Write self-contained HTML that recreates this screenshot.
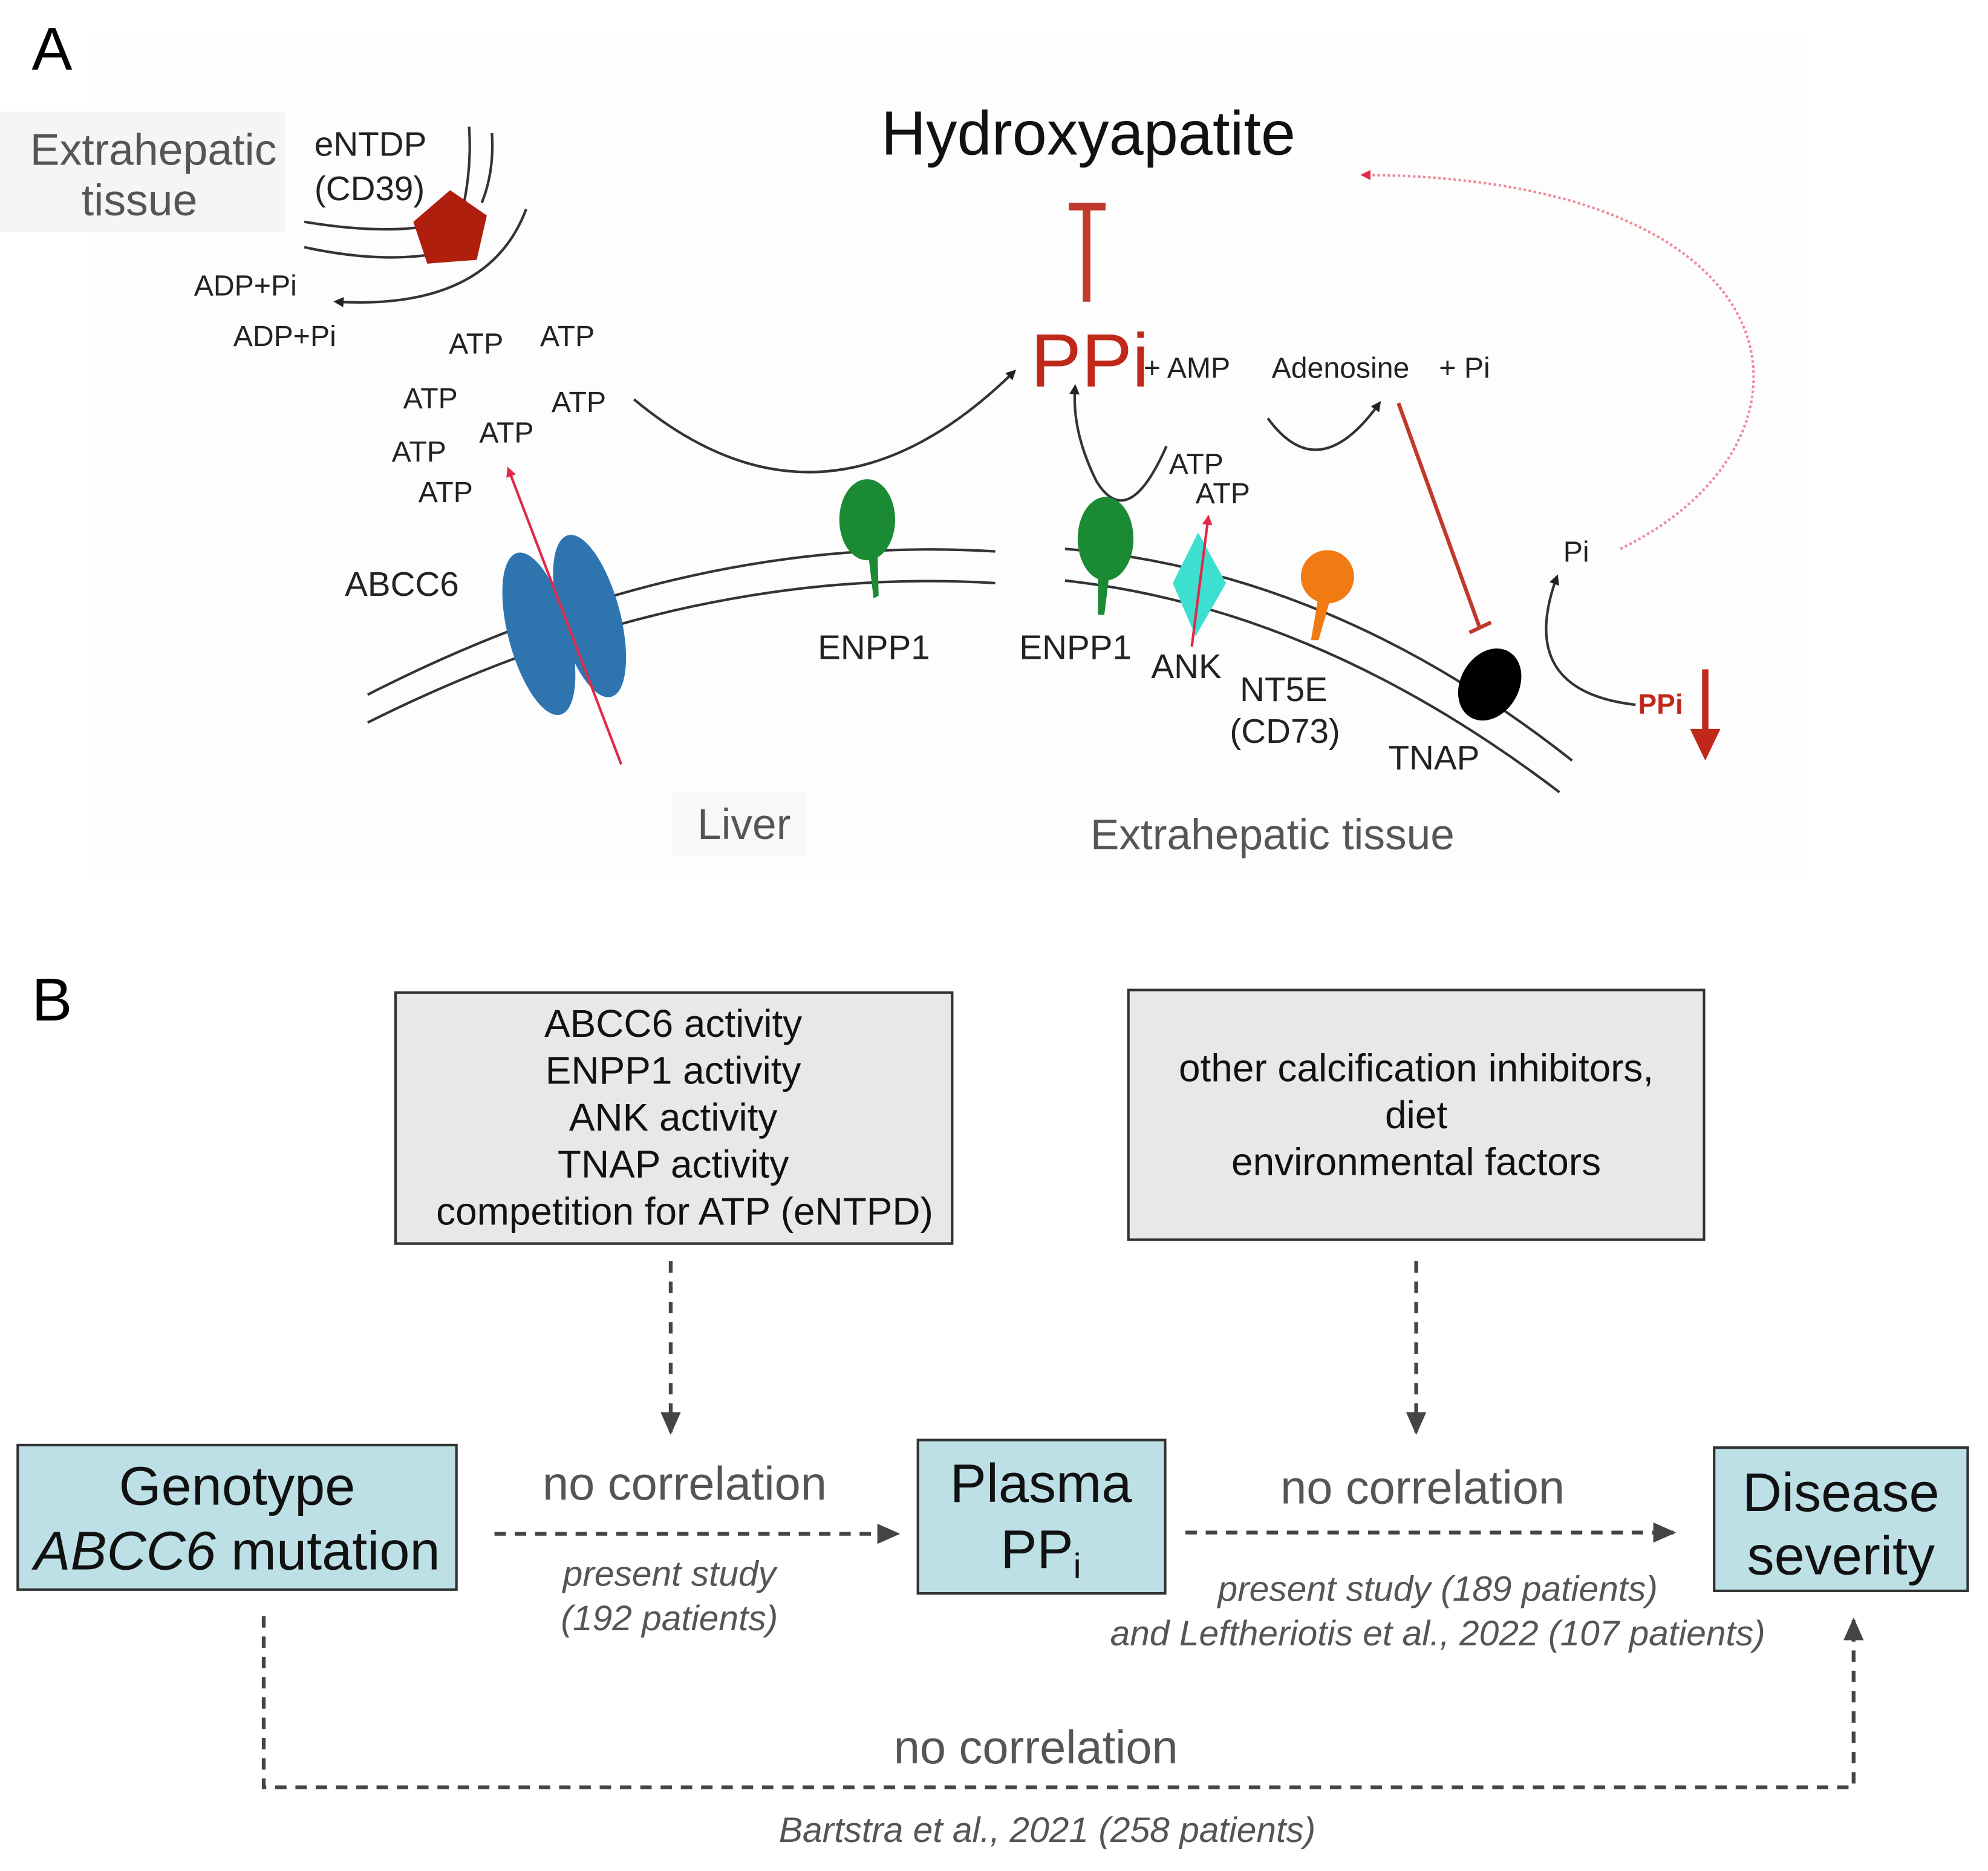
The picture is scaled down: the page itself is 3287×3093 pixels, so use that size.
<!DOCTYPE html>
<html><head><meta charset="utf-8"><style>
html,body{margin:0;padding:0;background:#fff;}
svg{display:block;}
text{font-family:"Liberation Sans",sans-serif;}
</style></head><body>
<svg width="3287" height="3093" viewBox="0 0 1568 1476" preserveAspectRatio="none" xmlns="http://www.w3.org/2000/svg">
<defs>
<marker id="ab" markerWidth="8" markerHeight="8" refX="6" refY="4" orient="auto" markerUnits="userSpaceOnUse"><path d="M0,0 L8,4 L0,8 z" fill="#222"/></marker>
<marker id="ar" markerWidth="8" markerHeight="8" refX="6" refY="4" orient="auto" markerUnits="userSpaceOnUse"><path d="M0,0 L8,4 L0,8 z" fill="#e0294a"/></marker>
<marker id="ag" markerWidth="20" markerHeight="20" refX="16" refY="10" orient="auto" markerUnits="userSpaceOnUse"><path d="M0,2 L18,10 L0,18 z" fill="#444"/></marker>
</defs>
<rect x="70" y="30" width="1356" height="662" fill="#fdfdfd"/>
<text x="25" y="55" font-size="48">A</text>
<rect x="0" y="88" width="225" height="95" fill="#f5f5f5"/>
<text x="121" y="130" font-size="35" fill="#555" text-anchor="middle">Extrahepatic</text>
<text x="110" y="170" font-size="35" fill="#555" text-anchor="middle">tissue</text>
<text x="248" y="123" font-size="27" fill="#222">eNTDP</text>
<text x="248" y="158" font-size="27" fill="#222">(CD39)</text>
<g fill="none" stroke="#333" stroke-width="2">
<path d="M240,175 Q300,185 340,178"/>
<path d="M240,195 Q300,208 345,200"/>
<path d="M370,100 Q372,130 366,160"/>
<path d="M388,105 Q390,135 380,160"/>
<path d="M415,165 Q385,245 265,238" marker-end="url(#ab)"/>
<path d="M500,315 Q650,440 800,293" marker-end="url(#ab)"/>
<path d="M920,352 Q890,420 865,380 Q845,340 848,305" marker-end="url(#ab)"/>
<path d="M1000,330 Q1040,385 1088,318" marker-end="url(#ab)"/>
<path d="M1290,556 Q1195,545 1228,455" marker-end="url(#ab)"/>
<path d="M290,548 Q540,420 785,435"/>
<path d="M290,570 Q540,445 785,460"/>
<path d="M840,433 Q1050,450 1240,600"/>
<path d="M840,458 Q1040,480 1230,625"/>
</g>
<polygon points="355,150 384,170 376,205 337,208 326,175" fill="#b01e0e"/>
<g font-size="23" fill="#222">
<text x="153" y="233">ADP+Pi</text><text x="184" y="273">ADP+Pi</text>
<text x="354" y="279">ATP</text><text x="426" y="273">ATP</text>
<text x="318" y="322">ATP</text><text x="435" y="325">ATP</text>
<text x="378" y="349">ATP</text><text x="309" y="364">ATP</text>
<text x="330" y="396">ATP</text>
<text x="922" y="374">ATP</text><text x="943" y="397">ATP</text>
<text x="902" y="298">+ AMP</text><text x="1003" y="298">Adenosine</text><text x="1135" y="298">+ Pi</text>
<text x="1233" y="443">Pi</text>
</g>
<text x="695" y="122" font-size="49" fill="#111">Hydroxyapatite</text>
<path d="M857,165 L857,238 M843,163 L872,163" stroke="#c0392b" stroke-width="6" fill="none"/>
<text x="813" y="305" font-size="60" fill="#c0281a">PPi</text>
<path d="M1103,318 L1167,495 M1159,499 L1176,491" stroke="#c0392b" stroke-width="3" fill="none"/>
<path d="M1278,433 C1450,350 1430,140 1075,138" stroke="#f08a9a" stroke-width="2" stroke-dasharray="2 2" fill="none" marker-end="url(#ar)"/>
<text x="1292" y="563" font-size="22" font-weight="bold" fill="#c0281a">PPi</text>
<path d="M1345,528 L1345,580" stroke="#c0281a" stroke-width="5"/>
<polygon points="1333,575 1357,575 1345,600" fill="#c0281a"/>
<ellipse cx="425" cy="500" rx="24" ry="66" transform="rotate(-15 425 500)" fill="#2e75b0"/>
<ellipse cx="465" cy="486" rx="24" ry="66" transform="rotate(-15 465 486)" fill="#2e75b0"/>
<path d="M490,603 L401,370" stroke="#e0294a" stroke-width="2" marker-end="url(#ar)"/>
<text x="272" y="470" font-size="27" fill="#222">ABCC6</text>
<ellipse cx="684" cy="410" rx="22" ry="32" fill="#1a8a34"/><path d="M684,430 L689,472 L693,470 L692,430z" fill="#1a8a34"/>
<ellipse cx="872" cy="425" rx="22" ry="33" fill="#1a8a34"/><path d="M866,445 L866,485 L871,485 L876,445z" fill="#1a8a34"/>
<text x="645" y="520" font-size="27" fill="#222">ENPP1</text>
<text x="804" y="520" font-size="27" fill="#222">ENPP1</text>
<polygon points="945,420 967,460 943,502 925,460" fill="#3de0d0"/>
<path d="M940,510 L953,408" stroke="#e0294a" stroke-width="2" marker-end="url(#ar)"/>
<text x="908" y="535" font-size="27" fill="#222">ANK</text>
<circle cx="1047" cy="455" r="21" fill="#f07b12"/><path d="M1040,470 L1034,505 L1040,505 L1050,470z" fill="#f07b12"/>
<text x="978" y="553" font-size="27" fill="#222">NT5E</text><text x="970" y="586" font-size="27" fill="#222">(CD73)</text>
<ellipse cx="1175" cy="540" rx="23" ry="30" transform="rotate(30 1175 540)" fill="#000"/>
<text x="1095" y="607" font-size="27" fill="#222">TNAP</text>
<rect x="530" y="625" width="105" height="50" fill="#f8f8f8"/>
<text x="550" y="662" font-size="34" fill="#555">Liver</text>
<text x="860" y="670" font-size="34" fill="#555">Extrahepatic tissue</text>

<text x="25" y="805" font-size="48">B</text>
<rect x="312" y="783" width="439" height="198" fill="#e8e8e8" stroke="#333" stroke-width="2"/>
<g font-size="30.5" fill="#111" text-anchor="middle">
<text x="531" y="818">ABCC6 activity</text><text x="531" y="855">ENPP1 activity</text>
<text x="531" y="892">ANK activity</text><text x="531" y="929">TNAP activity</text>
<text x="540" y="966">competition for ATP (eNTPD)</text>
</g>
<rect x="890" y="781" width="454" height="197" fill="#e8e8e8" stroke="#333" stroke-width="2"/>
<g font-size="30.5" fill="#111" text-anchor="middle">
<text x="1117" y="853">other calcification inhibitors,</text><text x="1117" y="890">diet</text><text x="1117" y="927">environmental factors</text>
</g>
<g stroke="#444" stroke-width="3" stroke-dasharray="9 7" fill="none">
<path d="M529,995 L529,1130" marker-end="url(#ag)"/>
<path d="M1117,995 L1117,1130" marker-end="url(#ag)"/>
<path d="M390,1210 L708,1210" marker-end="url(#ag)"/>
<path d="M935,1209 L1320,1209" marker-end="url(#ag)"/>
<path d="M208,1275 L208,1410 L1462,1410 L1462,1278" marker-end="url(#ag)"/>
</g>
<rect x="14" y="1140" width="346" height="114" fill="#bde0e6" stroke="#333" stroke-width="2"/>
<rect x="724" y="1136" width="195" height="121" fill="#bde0e6" stroke="#333" stroke-width="2"/>
<rect x="1352" y="1142" width="200" height="113" fill="#bde0e6" stroke="#333" stroke-width="2"/>
<g font-size="43" fill="#111" text-anchor="middle">
<text x="187" y="1187">Genotype</text>
<text x="187" y="1238"><tspan font-style="italic">ABCC6</tspan> mutation</text>
<text x="821" y="1185">Plasma</text>
<text x="821" y="1237">PP<tspan font-size="28" dy="8">i</tspan></text>
<text x="1452" y="1192">Disease</text><text x="1452" y="1242">severity</text>
</g>
<g font-size="37" fill="#555" text-anchor="middle">
<text x="540" y="1183">no correlation</text>
<text x="1122" y="1186">no correlation</text>
<text x="817" y="1391">no correlation</text>
</g>
<g font-size="28" fill="#555" text-anchor="middle" font-style="italic">
<text x="528" y="1251">present study</text><text x="528" y="1286">(192 patients)</text>
<text x="1134" y="1263">present study (189 patients)</text>
<text x="1134" y="1298">and Leftheriotis et al., 2022 (107 patients)</text>
<text x="826" y="1453">Bartstra et al., 2021 (258 patients)</text>
</g>
</svg>
</body></html>
